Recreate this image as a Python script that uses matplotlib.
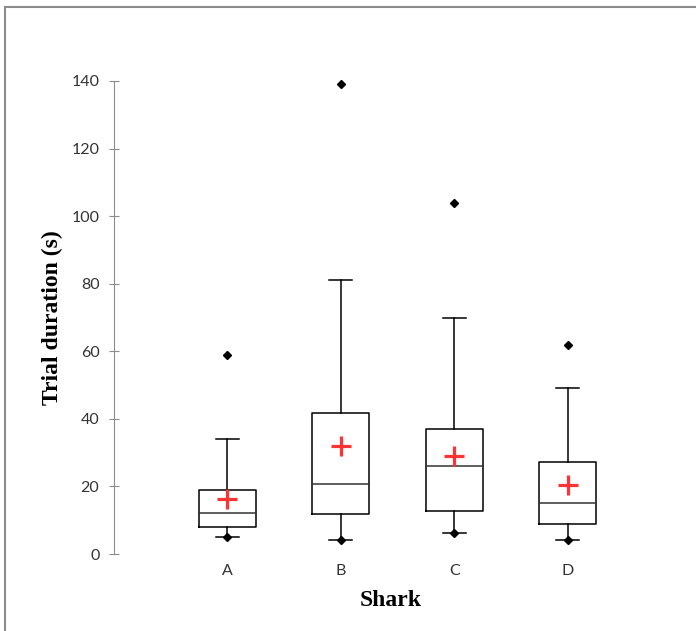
import matplotlib.pyplot as plt
from matplotlib.lines import Line2D

sharks = ["A", "B", "C", "D"]
q1 = [8, 11.7, 12.7, 9]
medians = [12.1, 20.6, 26.1, 15.2]
q3 = [18.8, 41.8, 37, 27.2]
whisker_low = [5, 4, 6.2, 4]
whisker_high = [34, 81, 70, 49]
means = [16.4, 32, 29, 20.4]
minimums = [5, 4, 6.2, 4]
maximums = [59, 139, 104, 62]
yticks = [0, 20, 40, 60, 80, 100, 120, 140]


def main():
    plt.rcParams["font.family"] = ["Lato", "DejaVu Sans"]
    fig = plt.figure(figsize=(6.96, 6.31), dpi=100)
    ax = fig.add_axes([114 / 696, 1 - 554 / 631, (681 - 114) / 696, (554 - 81) / 631])

    stats = []
    for i, name in enumerate(sharks):
        stats.append({
            "label": name,
            "q1": q1[i], "med": medians[i], "q3": q3[i],
            "whislo": whisker_low[i], "whishi": whisker_high[i],
            "mean": means[i],
            "fliers": [minimums[i], maximums[i]],
        })

    line = dict(color="black", linewidth=1.1)
    positions = list(range(1, len(sharks) + 1))
    ax.bxp(stats, positions=positions, widths=0.5, showmeans=True,
           boxprops=line, whiskerprops=line, capprops=line,
           medianprops=dict(color="#333333", linewidth=1.1),
           capwidths=0.2,
           meanprops=dict(marker="+", markersize=14, markeredgewidth=2.3,
                          markeredgecolor="#ff3333", linestyle="none"),
           flierprops=dict(marker="D", markersize=4, markerfacecolor="black",
                           markeredgecolor="black"))
    for artist in ax.get_children():
        if isinstance(artist, Line2D):
            artist.set_clip_on(False)

    ax.set_xlim(0, 5)
    ax.set_ylim(0, 140)
    ax.set_yticks(yticks)
    ax.set_xticks(positions)
    ax.set_xticklabels(sharks)

    for side in ["top", "right", "bottom"]:
        ax.spines[side].set_visible(False)
    ax.spines["left"].set_color("#8c8c8c")
    ax.spines["left"].set_linewidth(0.8)
    ax.tick_params(axis="y", direction="inout", length=7, width=0.8,
                   color="#8c8c8c", pad=7, labelsize=11.5, labelcolor="#333333")
    ax.tick_params(axis="x", length=0, pad=7, labelsize=11.5, labelcolor="#333333")

    fig.text(52 / 696, 1 - 318 / 631, "Trial duration (s)", rotation=90,
             ha="center", va="center", fontsize=17, fontweight="bold",
             family=["Liberation Serif"])
    fig.text(391 / 696, 1 - 601 / 631, "Shark", ha="center", va="center",
             fontsize=17, fontweight="bold", family=["Liberation Serif"])

    # grey frame on the top and left edges
    fig.add_artist(Line2D([5 / 696, 1], [1 - 7 / 631, 1 - 7 / 631],
                          color="#8c8c8c", linewidth=1.5))
    fig.add_artist(Line2D([5 / 696, 5 / 696], [0, 1 - 7 / 631],
                          color="#8c8c8c", linewidth=1.5))

    fig.savefig("out.png", dpi=100)


if __name__ == "__main__":
    main()
